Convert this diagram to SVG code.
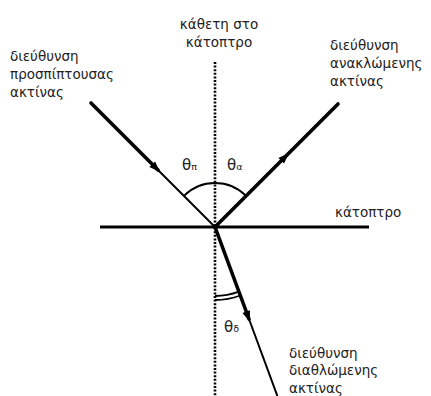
<svg xmlns="http://www.w3.org/2000/svg" xmlns:xlink="http://www.w3.org/1999/xlink" width="431" height="396" viewBox="0 0 431 396">
<defs>
<style>
.lbl{font-family:"DejaVu Sans","Liberation Sans",Arial,sans-serif;font-size:13.5px;fill:#222}
.th{font-family:"DejaVu Sans","Liberation Sans",Arial,sans-serif;font-size:15px;fill:#222}
.sub{font-size:9.5px}
.thick{stroke:#000;stroke-width:3.6;fill:none;stroke-linecap:round}
.thin{stroke:#000;stroke-width:2;fill:none}
.arc{stroke:#000;stroke-width:1.8;fill:none}
.dot{stroke:#000;stroke-width:2.6;stroke-dasharray:2 1.6;fill:none}
</style>
<polygon id="ah" points="0,0 -11,-4 -11,4" fill="#000"/>
</defs>
<rect width="431" height="396" fill="#fff"/>
<g id="connectors">
<line id="normal" class="dot" x1="215" y1="62" x2="215" y2="396"/>
<line id="mirror" class="thick" x1="100" y1="227" x2="369" y2="227" style="stroke-width:3;stroke-linecap:butt"/>
<line class="thick" x1="91" y1="103" x2="158" y2="170"/>
<line class="thin" x1="158" y1="170" x2="215" y2="227"/>
<use xlink:href="#ah" transform="translate(160,172) rotate(45)"/>
<line class="thick" x1="215" y1="227" x2="338" y2="104"/>
<use xlink:href="#ah" transform="translate(289,153) rotate(-45)"/>
<line class="thick" x1="215" y1="227" x2="249" y2="319"/>
<line class="thin" x1="249" y1="319" x2="277.4" y2="396"/>
<use xlink:href="#ah" transform="translate(250,322) rotate(69.7)"/>
<path class="arc" d="M183.9,195.9 A44,44 0 0 1 215,183 A44,44 0 0 1 246.1,195.9"/>
<path class="arc" d="M215,296 A69,69 0 0 0 238.9,291.7"/>
<path class="arc" d="M215,300 A73,73 0 0 0 240.3,295.5"/>
</g>
<g id="normal-label">
<text class="lbl" x="219" y="29" text-anchor="middle">κάθετη στο</text>
<text class="lbl" x="219" y="47" text-anchor="middle">κάτοπτρο</text>
</g>
<g id="incident-label">
<text class="lbl" x="10" y="61">διεύθυνση</text>
<text class="lbl" x="10" y="79">προσπίπτουσας</text>
<text class="lbl" x="10" y="97">ακτίνας</text>
</g>
<g id="reflected-label">
<text class="lbl" x="330" y="50">διεύθυνση</text>
<text class="lbl" x="330" y="68">ανακλώμενης</text>
<text class="lbl" x="330" y="86">ακτίνας</text>
</g>
<g id="mirror-label">
<text class="lbl" x="335" y="217">κάτοπτρο</text>
</g>
<g id="refracted-label">
<text class="lbl" x="289" y="358">διεύθυνση</text>
<text class="lbl" x="289" y="375">διαθλώμενης</text>
<text class="lbl" x="289" y="393">ακτίνας</text>
</g>
<g id="angle-labels">
<text class="th" x="182" y="170">θ<tspan class="sub">π</tspan></text>
<text class="th" x="227" y="170">θ<tspan class="sub">α</tspan></text>
<text class="th" x="224" y="332">θ<tspan class="sub">δ</tspan></text>
</g>
</svg>
